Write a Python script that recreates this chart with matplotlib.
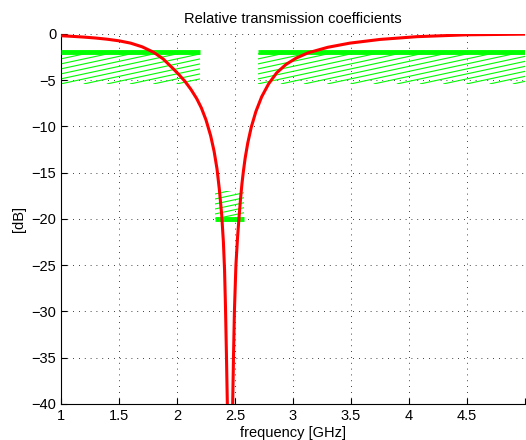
import numpy as np
import matplotlib
matplotlib.use('Agg')
import matplotlib.pyplot as plt
from matplotlib.patches import Rectangle

plt.rcParams['font.family'] = ['Liberation Sans', 'DejaVu Sans']

# transmission curve (GHz, dB)
freq = [1.0, 1.1, 1.2, 1.3, 1.4, 1.5, 1.6, 1.7, 1.8, 1.88, 1.97, 2.02, 2.07,
        2.12, 2.17, 2.21, 2.25, 2.29, 2.32, 2.345, 2.365, 2.385, 2.4, 2.41,
        2.418, 2.426, 2.434, 2.46,
        2.48, 2.487, 2.495, 2.508, 2.522, 2.535, 2.548, 2.56, 2.572, 2.588,
        2.61, 2.64, 2.68, 2.73, 2.79, 2.86, 2.94, 3.03, 3.13, 3.3, 3.49, 3.75,
        4.07, 4.5, 5.0]
gain_db = [-0.2, -0.27, -0.35, -0.45, -0.58, -0.75, -1.0, -1.4, -2.0, -2.7, -3.8, -4.45, -5.15,
           -6.0, -7.0, -8.0, -9.3, -11.0, -12.7, -14.6, -16.8, -19.5, -22.5, -25.5,
           -29.5, -34.5, -40.0, -60.0,
           -40.0, -35.0, -30.0, -25.0, -22.0, -19.8, -17.8, -16.2, -14.9, -13.4,
           -11.8, -10.1, -8.4, -6.8, -5.4, -4.2, -3.3, -2.6, -2.05, -1.45, -1.0, -0.6,
           -0.3, -0.1, -0.03]

# spec masks: (f_start, f_stop, limit level, hatch side)
mask_f0 = [1.0, 2.7, 2.33]
mask_f1 = [2.2, 5.0, 2.58]
mask_level = [-2.0, -2.0, -20.0]
mask_depth = [-3.4, -3.4, 3.0]   # hatched band below (-) or above (+) the limit

fig = plt.figure(figsize=(5.26, 4.40), dpi=100)
ax = fig.add_axes([0.116, 0.082, 0.882, 0.841])

green = (0, 1, 0)
slope = 2.7      # dB per GHz of the hatch lines
spacing = 0.2    # GHz between hatch lines
for f0, f1, lev, dep in zip(mask_f0, mask_f1, mask_level, mask_depth):
    ax.plot([f0, f1], [lev, lev], color=green, lw=3.5, solid_capstyle='butt', zorder=3)
    ylo, yhi = min(lev, lev + dep), max(lev, lev + dep)
    clip = Rectangle((f0, ylo), f1 - f0, yhi - ylo, transform=ax.transData)
    for x0 in np.arange(f0 - 2.0, f1 + spacing, spacing):
        ln, = ax.plot([x0, x0 + 2.0], [ylo, ylo + 2.0 * slope], color=green, lw=0.8, zorder=2)
        ln.set_clip_path(clip)

ax.plot(freq, gain_db, color='red', lw=2.2, zorder=4, solid_joinstyle='round')

ax.set_xlim(1, 5)
ax.set_ylim(-40, 0)
ax.set_xticks([1, 1.5, 2, 2.5, 3, 3.5, 4, 4.5, 5])
ax.set_xticklabels(['1', '1.5', '2', '2.5', '3', '3.5', '4', '4.5', ''])
ax.set_yticks(range(-40, 1, 5))
ax.grid(True, color='black', linestyle=(0, (1, 6)), linewidth=0.6)
ax.tick_params(direction='in', length=4, labelsize=10.5)
ax.spines['top'].set_visible(False)
ax.spines['right'].set_visible(False)
ax.set_title('Relative transmission coefficients', fontsize=10.5, pad=8)
ax.set_xlabel('frequency [GHz]', fontsize=10.5, labelpad=2)
ax.set_ylabel('[dB]', fontsize=10.5)

fig.savefig('out.png', dpi=100)
